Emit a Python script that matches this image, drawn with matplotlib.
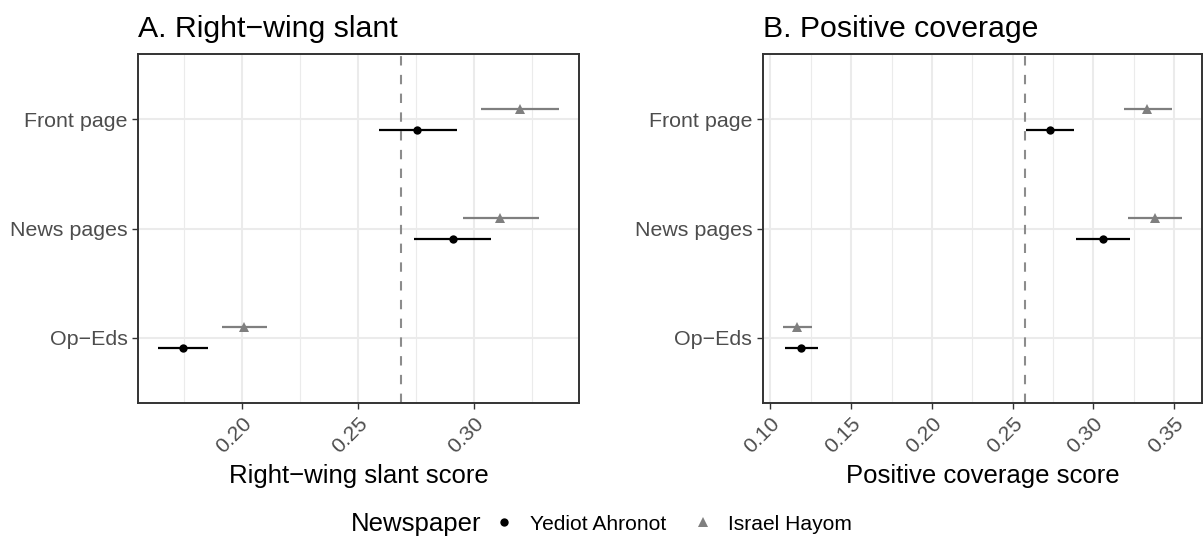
import matplotlib
matplotlib.use("Agg")
import matplotlib.pyplot as plt
from matplotlib.lines import Line2D
import numpy as np

plt.rcParams['font.family'] = ['Liberation Sans', 'DejaVu Sans']

# ---------------- data ----------------
categories = ["Op\u2212Eds", "News pages", "Front page"]   # bottom -> top
papers = ["Yediot Ahronot", "Israel Hayom"]

# Panel A: right-wing slant
slant_yediot = [0.1743, 0.2907, 0.2754]
slant_yediot_lo = [0.1636, 0.2742, 0.2587]
slant_yediot_hi = [0.1850, 0.3071, 0.2926]
slant_israel = [0.2007, 0.3111, 0.3197]
slant_israel_lo = [0.1912, 0.2950, 0.3029]
slant_israel_hi = [0.2106, 0.3278, 0.3365]
slant_ref = 0.2683

# Panel B: positive coverage
pos_yediot = [0.1189, 0.3059, 0.2732]
pos_yediot_lo = [0.1090, 0.2893, 0.2584]
pos_yediot_hi = [0.1292, 0.3226, 0.2880]
pos_israel = [0.1167, 0.3380, 0.3335]
pos_israel_lo = [0.1076, 0.3216, 0.3189]
pos_israel_hi = [0.1259, 0.3549, 0.3485]
pos_ref = 0.2578

slant_ticks = [0.20, 0.25, 0.30]
slant_minor = [0.175, 0.225, 0.275, 0.325]
pos_ticks = [0.10, 0.15, 0.20, 0.25, 0.30, 0.35]
pos_minor = [0.125, 0.175, 0.225, 0.275, 0.325]

# ---------------- style ----------------
C_YED = "#000000"
C_ISR = "#7F7F7F"
GRID = "#EBEBEB"
BORDER = "#333333"
TICKTXT = "#4D4D4D"
FS_TICK = 15.4
FS_LEG = 15.1
FS_AXT = 18.5
FS_TITLE = 21.8

W, H = 1204, 536
fig = plt.figure(figsize=(W / 100, H / 100), dpi=100)

def frac_box(x0, x1, ytop, ybot):
    return [x0 / W, 1 - ybot / H, (x1 - x0) / W, (ybot - ytop) / H]

axA = fig.add_axes(frac_box(138, 579, 54, 403))
axB = fig.add_axes(frac_box(762.7, 1202, 54, 403))

def expand(lo_list, hi_list):
    lo = min(lo_list); hi = max(hi_list)
    r = hi - lo
    return lo - 0.05 * r, hi + 0.05 * r

def panel(ax, yv, ylo, yhi, iv, ilo, ihi, ref, ticks, minor, title, xlabel):
    ypos = np.arange(1, len(categories) + 1)
    dodge = 0.1
    # grid
    for m in minor:
        ax.axvline(m, color=GRID, lw=0.8, zorder=0)
    for t in ticks:
        ax.axvline(t, color=GRID, lw=1.5, zorder=0)
    for y in ypos:
        ax.axhline(y, color=GRID, lw=1.5, zorder=0)
    ax.axvline(ref, color="#8C8C8C", lw=1.5, ls=(0, (4.5, 4.5)), zorder=1)
    # Yediot (lower)
    ax.hlines(ypos - dodge, ylo, yhi, color=C_YED, lw=1.6, zorder=2)
    ax.plot(yv, ypos - dodge, 'o', color=C_YED, ms=6.0, zorder=3, mew=0)
    # Israel Hayom (upper)
    ax.hlines(ypos + dodge, ilo, ihi, color=C_ISR, lw=1.6, zorder=2)
    ax.plot(iv, ypos + dodge, '^', color=C_ISR, ms=6.8, zorder=3, mew=0)

    lo, hi = expand(ylo + ilo, yhi + ihi)
    ax.set_xlim(lo, hi)
    ax.set_ylim(0.4, len(categories) + 0.6)
    ax.set_xticks(ticks)
    ax.set_xticklabels([f"{t:.2f}" for t in ticks], rotation=45,
                       ha='right', va='top', rotation_mode='anchor')
    ax.set_yticks(ypos)
    ax.set_yticklabels(categories)
    ax.tick_params(axis='both', length=4.6, width=1.0, color=BORDER,
                   labelsize=FS_TICK, labelcolor=TICKTXT, pad=3.0)
    for s in ax.spines.values():
        s.set_color(BORDER)
        s.set_linewidth(1.4)
    ax.set_title(title, loc='left', fontsize=FS_TITLE, pad=12.5, color="#000000")
    ax.set_xlabel(xlabel, fontsize=FS_AXT, labelpad=5, color="#000000")

panel(axA, slant_yediot, slant_yediot_lo, slant_yediot_hi,
      slant_israel, slant_israel_lo, slant_israel_hi, slant_ref,
      slant_ticks, slant_minor, "A. Right\u2212wing slant", "Right\u2212wing slant score")
panel(axB, pos_yediot, pos_yediot_lo, pos_yediot_hi,
      pos_israel, pos_israel_lo, pos_israel_hi, pos_ref,
      pos_ticks, pos_minor, "B. Positive coverage", "Positive coverage score")

# legend
fig.text(351 / W, 1 - 524 / H, "Newspaper", fontsize=FS_AXT, ha='left', va='center')
handles = [Line2D([], [], ls='none', marker='o', color=C_YED, ms=6.0, mew=0),
           Line2D([], [], ls='none', marker='^', color=C_ISR, ms=6.8, mew=0)]
fig.legend(handles, papers, loc='center left', bbox_to_anchor=(494 / W, 1 - 524 / H),
           ncol=2, frameon=False, fontsize=FS_LEG, borderpad=0, borderaxespad=0,
           handlelength=1.0, handletextpad=0.7, columnspacing=1.25)

fig.savefig("out.png", dpi=100)
